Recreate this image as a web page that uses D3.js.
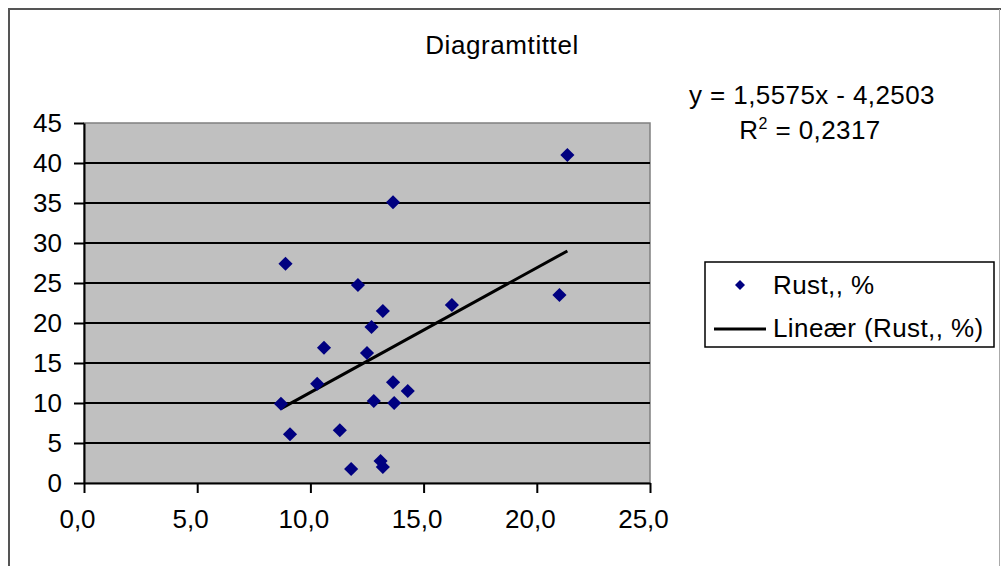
<!DOCTYPE html>
<html>
<head>
<meta charset="utf-8">
<style>
  body { margin: 0; background: #fff; }
  svg text { font-family: "Liberation Sans", Arial, sans-serif; fill: #000; }
</style>
</head>
<body>
<svg width="1001" height="566"></svg>
<script src="https://cdn.jsdelivr.net/npm/d3@7"></script>
<script>
// values
var rustX = [8.7, 9.1, 8.9, 10.3, 10.6, 11.3, 11.8, 12.1, 12.5, 12.7, 12.8, 13.1, 13.2, 13.2, 13.65, 13.65, 13.7, 14.3, 16.25, 21.0, 21.35];
var rustY = [9.9, 6.1, 27.4, 12.4, 16.9, 6.6, 1.75, 24.75, 16.25, 19.5, 10.25, 2.75, 2.0, 21.5, 35.1, 12.6, 10.0, 11.5, 22.25, 23.5, 41.0];
var xTicks = [0, 5, 10, 15, 20, 25];
var yTicks = [0, 5, 10, 15, 20, 25, 30, 35, 40, 45];
var slope = 1.5575, intercept = -4.2503;
var title = "Diagramtittel";
var eqText = "y = 1,5575x - 4,2503";
var r2Text = "0,2317";
var legendNames = ["Rust,, %", "Lineær (Rust,, %)"];

var svg = d3.select('svg');
var FONT = 26;

// chart frame
svg.append('path')
  .attr('d', 'M9,570 L9,9 L1005,9')
  .attr('fill', 'none').attr('stroke', '#555').attr('stroke-width', 2);
svg.append('line')
  .attr('x1', 999.5).attr('x2', 999.5).attr('y1', 9).attr('y2', 566)
  .attr('stroke', '#aaa').attr('stroke-width', 1);

var plot = {left: 84, top: 123, right: 650, bottom: 483};
var x = d3.scaleLinear().domain([0, 25]).range([plot.left, plot.right]);
var y = d3.scaleLinear().domain([0, 45]).range([plot.bottom, plot.top]);

// plot area
svg.append('rect')
  .attr('x', plot.left).attr('y', plot.top)
  .attr('width', plot.right - plot.left).attr('height', plot.bottom - plot.top)
  .attr('fill', '#c0c0c0').attr('stroke', '#808080').attr('stroke-width', 1.5);

// gridlines
svg.selectAll('.grid').data(yTicks.filter(function(d) { return d > 0 && d < 45; }))
  .enter().append('line').classed('grid', true)
  .attr('x1', plot.left).attr('x2', plot.right)
  .attr('y1', function(d) { return y(d); }).attr('y2', function(d) { return y(d); })
  .attr('stroke', '#000').attr('stroke-width', 2);

// axes
var yAxis = svg.append('g')
  .attr('transform', 'translate(' + plot.left + ',0)')
  .call(d3.axisLeft(y).tickValues(yTicks).tickSize(10).tickPadding(12).tickSizeOuter(0));
var xAxis = svg.append('g')
  .attr('transform', 'translate(0,' + plot.bottom + ')')
  .call(d3.axisBottom(x).tickValues(xTicks).tickSize(10).tickPadding(17).tickSizeOuter(0)
    .tickFormat(function(d) { return d3.format('.1f')(d).replace('.', ','); }));

[yAxis, xAxis].forEach(function(a) {
  a.select('.domain').attr('stroke', '#000').attr('stroke-width', 2);
  a.selectAll('.tick line').attr('stroke', '#000').attr('stroke-width', 2);
  a.selectAll('.tick text').attr('font-size', FONT).attr('fill', '#000')
    .attr('font-family', '"Liberation Sans", Arial, sans-serif');
});
xAxis.selectAll('.tick text').attr('dx', -7);

// trendline
var xMin = d3.min(rustX), xMax = d3.max(rustX);
svg.append('line')
  .attr('x1', x(xMin)).attr('y1', y(slope * xMin + intercept))
  .attr('x2', x(xMax)).attr('y2', y(slope * xMax + intercept))
  .attr('stroke', '#000').attr('stroke-width', 3);

// markers
var diamond = d3.symbol().type(d3.symbolSquare).size(100);
svg.selectAll('.pt').data(rustX)
  .enter().append('path').classed('pt', true)
  .attr('d', diamond)
  .attr('transform', function(d, i) {
    return 'translate(' + x(d) + ',' + y(rustY[i]) + ') rotate(45)';
  })
  .attr('fill', '#000080');

// title and equation
svg.append('text').attr('x', 502).attr('y', 54).attr('text-anchor', 'middle')
  .attr('font-size', FONT).attr('letter-spacing', 0.6).text(title);
svg.append('text').attr('x', 812).attr('y', 104).attr('text-anchor', 'middle')
  .attr('font-size', FONT).attr('letter-spacing', 0.4).text(eqText);
var r2 = svg.append('text').attr('x', 810).attr('y', 139).attr('text-anchor', 'middle')
  .attr('font-size', FONT).attr('letter-spacing', 0.4);
r2.append('tspan').text('R');
r2.append('tspan').attr('dy', -10).attr('font-size', 16).text('2');
r2.append('tspan').attr('dy', 10).text(' = ' + r2Text);

// legend
var lg = svg.append('g');
lg.append('rect').attr('x', 705).attr('y', 262).attr('width', 289).attr('height', 85)
  .attr('fill', '#fff').attr('stroke', '#000').attr('stroke-width', 1.5);
lg.append('path').attr('d', d3.symbol().type(d3.symbolSquare).size(50))
  .attr('transform', 'translate(740,285) rotate(45)').attr('fill', '#000080');
lg.append('line').attr('x1', 714).attr('x2', 766).attr('y1', 329).attr('y2', 329)
  .attr('stroke', '#000').attr('stroke-width', 3);
lg.selectAll('.lgt').data(legendNames).enter().append('text').classed('lgt', true)
  .attr('x', 773).attr('y', function(d, i) { return 294 + i * 43; })
  .attr('font-size', FONT).attr('letter-spacing', 0.4).text(function(d) { return d; });
</script>
</body>
</html>
